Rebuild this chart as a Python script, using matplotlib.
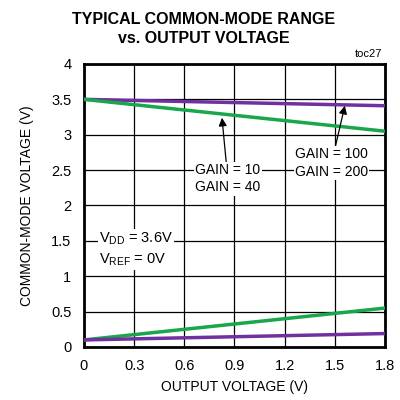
import matplotlib
matplotlib.use("Agg")
import matplotlib.pyplot as plt

plt.rcParams['font.family'] = ['Liberation Sans', 'DejaVu Sans']

# output voltage (V)
vout = [0.0, 1.8]
# upper common-mode limit
upper_g10_40 = [3.5, 3.05]
upper_g100_200 = [3.5, 3.41]
# lower common-mode limit
lower_g10_40 = [0.1, 0.55]
lower_g100_200 = [0.1, 0.19]

xticks = [0, 0.3, 0.6, 0.9, 1.2, 1.5, 1.8]
xlabels = ["0", "0.3", "0.6", "0.9", "1.2", "1.5", "1.8"]
yticks = [0, 0.5, 1, 1.5, 2, 2.5, 3, 3.5, 4]
ylabels = ["0", "0.5", "1", "1.5", "2", "2.5", "3", "3.5", "4"]

green = "#1aa64a"
purple = "#7030a0"

fig = plt.figure(figsize=(4, 4), dpi=100)
ax = fig.add_axes([0.21, 0.1325, 0.7525, 0.7075])

ax.plot(vout, upper_g100_200, color=purple, lw=2.5, zorder=3)
ax.plot(vout, upper_g10_40, color=green, lw=2.5, zorder=3)
ax.plot(vout, lower_g10_40, color=green, lw=2.5, zorder=3)
ax.plot(vout, lower_g100_200, color=purple, lw=2.5, zorder=3)

ax.set_xlim(0, 1.8)
ax.set_ylim(0, 4)
ax.set_xticks(xticks)
ax.set_xticklabels(xlabels)
ax.set_yticks(yticks)
ax.set_yticklabels(ylabels)
ax.tick_params(length=0, labelsize=10.5, pad=9)
ax.grid(True, color="black", lw=0.9)
for s in ax.spines.values():
    s.set_linewidth(2)

ax.set_xlabel("OUTPUT VOLTAGE (V)", fontsize=10, labelpad=5)
ax.set_ylabel("COMMON-MODE VOLTAGE (V)", fontsize=10, labelpad=12)

fig.text(0.51, 0.927, "TYPICAL COMMON-MODE RANGE\nvs. OUTPUT VOLTAGE",
         ha="center", va="center", fontsize=11.5, fontweight="bold",
         linespacing=1.35)
fig.text(0.955, 0.865, "toc27", ha="right", va="center", fontsize=8)

box = dict(facecolor="white", edgecolor="none", pad=1)
ax.annotate("GAIN = 10\nGAIN = 40", xy=(0.825, 3.24), xytext=(0.86, 2.6),
            ha="center", va="top", fontsize=10, bbox=box, linespacing=1.3,
            arrowprops=dict(arrowstyle="-|>", color="black", lw=0.9,
                            shrinkA=0, shrinkB=0, mutation_scale=12))
ax.annotate("GAIN = 100\nGAIN = 200", xy=(1.56, 3.41), xytext=(1.48, 2.82),
            ha="center", va="top", fontsize=10, bbox=box, linespacing=1.3,
            arrowprops=dict(arrowstyle="-|>", color="black", lw=0.9,
                            shrinkA=0, shrinkB=0, mutation_scale=12))

ax.text(0.09, 1.65, "V$_{\\mathregular{DD}}$ = 3.6V\nV$_{\\mathregular{REF}}$ = 0V",
        ha="left", va="top", fontsize=10.5, bbox=box, linespacing=1.4)

fig.savefig("out.png", dpi=100)
